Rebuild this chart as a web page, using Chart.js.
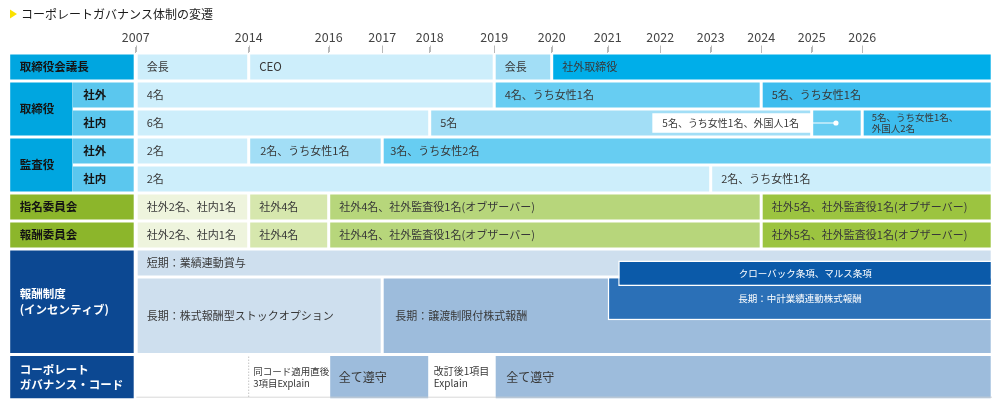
<!DOCTYPE html>
<html>
<head>
<meta charset="utf-8">
<script src="https://cdn.jsdelivr.net/npm/chart.js@4.4.1/dist/chart.umd.min.js"></script>
<style>
  html, body { margin: 0; padding: 0; background: #fff; overflow: hidden; }
  #c { display: block; }
</style>
</head>
<body>
<canvas id="c" width="1000" height="410"></canvas>
<script>
// ================= DATA =================
const TITLE = 'コーポレートガバナンス体制の変遷';
const YEAR_TICKS = [2007, 2014, 2016, 2017, 2018, 2019, 2020, 2021, 2022, 2023, 2024, 2025, 2026];
const END = 'end';

const chairBounds  = [2007, 2014, 2019, 2020, END];
const chairLabels  = ['会長', 'CEO', '会長', '社外取締役'];

const dirOutBounds = [2007, 2019, 2024, END];
const dirOutLabels = ['4名', '4名、うち女性1名', '5名、うち女性1名'];

const dirInBounds  = [2007, 2018, 2025, 2026, END];
const dirInLabels  = ['6名', '5名', '', ['5名、うち女性1名、', '外国人2名']];
const dirInNote    = '5名、うち女性1名、外国人1名';   // callout for the 2025 period

const audOutBounds = [2007, 2014, 2017, END];
const audOutLabels = ['2名', '2名、うち女性1名', '3名、うち女性2名'];

const audInBounds  = [2007, 2023, END];
const audInLabels  = ['2名', '2名、うち女性1名'];

const nomBounds    = [2007, 2014, 2016, 2024, END];
const nomLabels    = ['社外2名、社内1名', '社外4名', '社外4名、社外監査役1名(オブザーバー)', '社外5名、社外監査役1名(オブザーバー)'];

const remBounds    = [2007, 2014, 2016, 2024, END];
const remLabels    = ['社外2名、社内1名', '社外4名', '社外4名、社外監査役1名(オブザーバー)', '社外5名、社外監査役1名(オブザーバー)'];

const shortBounds  = [2007, END];
const shortLabels  = ['短期：業績連動賞与'];
const longBounds   = [2007, 2017, END];
const longLabels   = ['長期：株式報酬型ストックオプション', '長期：譲渡制限付株式報酬'];
const midBounds    = [2021, END];
const midLabels    = ['長期：中計業績連動株式報酬'];
const clawBounds   = [2021.2, END];
const clawLabels   = ['クローバック条項、マルス条項'];

const cgBounds     = [2007, 2014, 2016, 2018, 2019, END];
const cgLabels     = ['', ['同コード適用直後', '3項目Explain'], '全て遵守', ['改訂後1項目', 'Explain'], '全て遵守'];

const headFullLabels = ['取締役会議長', '指名委員会', '報酬委員会'];
const headMainLabels = ['取締役', '監査役'];
const headSubLabels  = ['社外', '社内', '社外', '社内'];
const headIncLabel   = ['報酬制度', '(インセンティブ)'];
const headCgLabel    = ['コーポレート', 'ガバナンス・コード'];

// ================= LAYOUT / STYLE =================
// horizontal spacing of the year columns in this illustration (axis units = px)
const AXIS_POS = [0, 113, 193, 246.5, 294, 358.5, 416, 472, 524.5, 575, 625.5, 676, 726.5];
const AXIS_END_POS = 856.5;
const HEAD_L = -127, HEAD_SPLIT = -63;
const ROW_KEYS = ['chair', 'dirOut', 'dirIn', 'audOut', 'audIn', 'nom', 'rem', 'inc', 'cg'];
const ROW_H    = [28, 28, 28, 28, 28, 28, 28, 105.5, 45.3];

const FAM = '"Noto Sans CJK JP", "Noto Sans", sans-serif';
const F_DATA = '11px ' + FAM;
const F_HEAD = 'bold 11.5px ' + FAM;
const TXT = '#383838', TXT_HEAD = '#141414';

const C = {
  head: '#00a6e0', sub: '#5bc7ee', green: '#8cb62b', navy: '#0c4892',
  b1: '#cdeefb', b2: '#a2def6', b3: '#67cdf2', b4: '#3ebdee', bright: '#00aee9',
  g1: '#eef4dd', g2: '#d6e7ad', g3: '#b7d67b', g4: '#9cc440',
  s1: '#cedfee', s2: '#9dbcdc', claw: '#0b5aa9', mid: '#2b70b7'
};

// ================= HELPERS =================
function pos(v) {
  if (v === END) return AXIS_END_POS;
  const n = YEAR_TICKS.length - 1;
  for (let i = 0; i < n; i++) {
    if (v <= YEAR_TICKS[i + 1]) {
      const t = (v - YEAR_TICKS[i]) / (YEAR_TICKS[i + 1] - YEAR_TICKS[i]);
      return AXIS_POS[i] + t * (AXIS_POS[i + 1] - AXIS_POS[i]);
    }
  }
  return AXIS_POS[n] + (v - YEAR_TICKS[n]) * (AXIS_POS[n] - AXIS_POS[n - 1]);
}
const ROW_TOP = {};
let acc = 0;
ROW_KEYS.forEach((k, i) => { ROW_TOP[k] = acc; acc += ROW_H[i]; });
const Y_TOTAL = acc;
const rowH = k => ROW_H[ROW_KEYS.indexOf(k)];
const mid = (k, off = 0, h = rowH(k)) => ROW_TOP[k] + off + h / 2;
function band(bounds, y) {
  return bounds.slice(0, -1).map((b, i) => ({ x: [pos(b), pos(bounds[i + 1])], y }));
}
function bar(o) {
  return Object.assign({
    type: 'bar', indexAxis: 'y', grouped: false,
    borderColor: '#fff', borderWidth: 1.5, borderSkipped: false, inflateAmount: 0,
    lblFont: F_DATA, lblColor: TXT, lblAlign: 'left', lblPad: 10.5, lblLine: 14, order: 10
  }, o);
}

const datasets = [
  // ---- headers ----
  bar({ data: [{ x: [HEAD_L, pos(2007)], y: mid('chair') }, { x: [HEAD_L, pos(2007)], y: mid('nom') }, { x: [HEAD_L, pos(2007)], y: mid('rem') }],
        barThickness: 28, backgroundColor: [C.head, C.green, C.green], texts: headFullLabels,
        lblFont: F_HEAD, lblColor: TXT_HEAD, lblPad: 11 }),
  bar({ data: [{ x: [HEAD_L, HEAD_SPLIT], y: ROW_TOP.dirOut + 28 }, { x: [HEAD_L, HEAD_SPLIT], y: ROW_TOP.audOut + 28 }],
        barThickness: 56, backgroundColor: C.head, texts: headMainLabels,
        borderWidth: { top: 1.5, bottom: 1.5, left: 1.5, right: 0 },
        lblFont: F_HEAD, lblColor: TXT_HEAD, lblPad: 11 }),
  bar({ data: ['dirOut', 'dirIn', 'audOut', 'audIn'].map(k => ({ x: [HEAD_SPLIT, pos(2007)], y: mid(k) })),
        barThickness: 28, backgroundColor: C.sub, texts: headSubLabels,
        borderWidth: { top: 1.5, bottom: 1.5, left: 0, right: 1.5 },
        lblFont: F_HEAD, lblColor: TXT_HEAD, lblPad: 10.5 }),
  bar({ data: [{ x: [HEAD_L, pos(2007)], y: mid('inc') }], barThickness: rowH('inc'), backgroundColor: C.navy,
        texts: [headIncLabel], lblFont: F_HEAD, lblColor: '#fff', lblPad: 11, lblLine: 16 }),
  bar({ data: [{ x: [HEAD_L, pos(2007)], y: mid('cg') }], barThickness: rowH('cg'), backgroundColor: C.navy,
        texts: [headCgLabel], lblFont: F_HEAD, lblColor: '#fff', lblPad: 11, lblLine: 15 }),

  // ---- board rows ----
  bar({ data: band(chairBounds, mid('chair')), barThickness: 28, texts: chairLabels,
        backgroundColor: [C.b1, C.b1, C.b2, C.bright], lblFont: [F_DATA, '11.5px ' + FAM, F_DATA, F_DATA] }),
  bar({ data: band(dirOutBounds, mid('dirOut')), barThickness: 28, texts: dirOutLabels,
        backgroundColor: [C.b1, C.b3, C.b4] }),
  bar({ data: band(dirInBounds, mid('dirIn')), barThickness: 28, texts: dirInLabels,
        backgroundColor: [C.b1, C.b2, C.b3, C.b4], lblPad: [10.5, 10.5, 10, 9.5],
        lblFont: [F_DATA, F_DATA, F_DATA, '9.5px ' + FAM], lblLine: 11 }),
  bar({ data: band(audOutBounds, mid('audOut')), barThickness: 28, texts: audOutLabels,
        backgroundColor: [C.b1, C.b2, C.b3], lblPad: [10.5, 11.5, 8] }),
  bar({ data: band(audInBounds, mid('audIn')), barThickness: 28, texts: audInLabels,
        backgroundColor: [C.b1, C.b1] }),
  bar({ data: band(nomBounds, mid('nom')), barThickness: 28, texts: nomLabels,
        backgroundColor: [C.g1, C.g2, C.g3, C.g4] }),
  bar({ data: band(remBounds, mid('rem')), barThickness: 28, texts: remLabels,
        backgroundColor: [C.g1, C.g2, C.g3, C.g4] }),

  // ---- incentive block ----
  bar({ data: band(shortBounds, mid('inc', 0, 28)), barThickness: 28, texts: shortLabels,
        backgroundColor: C.s1, order: 10 }),
  bar({ data: band(longBounds, mid('inc', 28, 77.5)), barThickness: 77.5, texts: longLabels,
        backgroundColor: [C.s1, C.s2], lblPad: [10.5, 13], order: 9 }),
  bar({ data: band(midBounds, mid('inc', 28, 43.2)), barThickness: 43.2, texts: midLabels,
        backgroundColor: C.mid, lblAlign: 'center', lblColor: '#fff', lblFont: '9.5px ' + FAM, order: 8 }),
  bar({ data: band(clawBounds, mid('inc', 11.4, 25.5)), barThickness: 25.5, texts: clawLabels,
        backgroundColor: C.claw, lblAlign: 'center', lblColor: '#fff', lblFont: '9.5px ' + FAM, order: 7 }),

  // ---- corporate governance code ----
  bar({ data: band(cgBounds, mid('cg')), barThickness: rowH('cg'), texts: cgLabels,
        backgroundColor: ['#fff', '#fff', C.s2, '#fff', C.s2],
        lblFont: [F_DATA, '9.5px ' + FAM, '12px ' + FAM, '10px ' + FAM, '12px ' + FAM],
        lblPad: [10, 4.5, 10, 4, 12], lblLine: 12.5 }),
  bar({ data: [{ x: [pos(2007), AXIS_END_POS], y: ROW_TOP.cg + 43.3 / 2 }], barThickness: 43.3,
        backgroundColor: 'rgba(0,0,0,0)', borderColor: '#d0d0d0',
        borderWidth: { top: 0, left: 0, right: 0, bottom: 1 }, order: 6 }),
  { type: 'line', indexAxis: 'x', order: 5,
    data: [{ x: pos(2014), y: ROW_TOP.cg + 2 }, { x: pos(2014), y: ROW_TOP.cg + rowH('cg') - 2.5 }],
    borderColor: '#c4c4c4', borderWidth: 1, borderDash: [1.5, 1.5], pointRadius: 0 },

  // ---- callout for 2025 board composition ----
  bar({ data: [{ x: [pos(2021.85), pos(2025)], y: mid('dirIn') }], barThickness: 19.3,
        backgroundColor: '#fff', borderWidth: 0, texts: [dirInNote], lblFont: '10px ' + FAM, lblPad: 10, order: 4 }),
  { type: 'line', indexAxis: 'x', order: 3,
    data: [{ x: pos(2025), y: mid('dirIn') }, { x: pos(2025.48), y: mid('dirIn') }],
    borderColor: '#fff', borderWidth: 1, pointRadius: [0, 2.6], pointBackgroundColor: '#fff', pointBorderWidth: 0 }
];

// ================= PLUGINS =================
const barText = {
  id: 'barText',
  afterDatasetsDraw(chart) {
    const ctx = chart.ctx;
    chart.data.datasets.forEach((ds, i) => {
      if (!ds.texts) return;
      const meta = chart.getDatasetMeta(i);
      meta.data.forEach((el, j) => {
        const t = ds.texts[j];
        if (!t || (Array.isArray(t) && !t.length)) return;
        const pick = (v, d) => Array.isArray(v) ? (v[j] !== undefined ? v[j] : d) : (v !== undefined ? v : d);
        const p = el.getProps(['x', 'y', 'base'], true);
        const left = Math.min(p.x, p.base), right = Math.max(p.x, p.base);
        const lines = Array.isArray(t) ? t : [t];
        const lh = pick(ds.lblLine, 14);
        const align = ds.lblAlign || 'left';
        ctx.save();
        ctx.font = pick(ds.lblFont, F_DATA);
        ctx.fillStyle = pick(ds.lblColor, TXT);
        ctx.textBaseline = 'middle';
        ctx.textAlign = align;
        const tx = align === 'center' ? (left + right) / 2 : left + pick(ds.lblPad, 10.5);
        lines.forEach((ln, k) => ctx.fillText(ln, tx, p.y + (k - (lines.length - 1) / 2) * lh));
        ctx.restore();
      });
    });
  }
};

// small tick marks under the year labels, placed by the x scale
const yearTickMarks = {
  id: 'yearTickMarks',
  afterDraw(chart) {
    const sx = chart.scales.x, ctx = chart.ctx, top = chart.chartArea.top;
    ctx.save();
    ctx.strokeStyle = '#b8b8b8';
    ctx.lineWidth = 1;
    sx.ticks.forEach(t => {
      const px = Math.round(sx.getPixelForValue(t.value)) + 0.5;
      ctx.beginPath();
      ctx.moveTo(px, top - 7.5);
      ctx.lineTo(px, top - 1);
      ctx.stroke();
    });
    ctx.restore();
  }
};

const titleMark = {
  id: 'titleMark',
  afterDraw(chart) {
    const ctx = chart.ctx;
    ctx.save();
    ctx.fillStyle = '#fbe100';
    ctx.beginPath();
    ctx.moveTo(10, 9.5); ctx.lineTo(17, 14); ctx.lineTo(10, 18.5); ctx.closePath();
    ctx.fill();
    ctx.fillStyle = '#1a1a1a';
    ctx.font = '12px ' + FAM;
    ctx.textBaseline = 'middle';
    ctx.textAlign = 'left';
    ctx.fillText(TITLE, 21, 14.5);
    ctx.restore();
  }
};

// ================= CHART =================
Chart.defaults.font.family = FAM;
new Chart(document.getElementById('c'), {
  type: 'bar',
  data: { datasets },
  plugins: [barText, yearTickMarks, titleMark],
  options: {
    responsive: false,
    animation: false,
    events: [],
    indexAxis: 'y',
    layout: { padding: { top: 33, left: 8, right: 7, bottom: 410 - 53 - Y_TOTAL } },
    plugins: { legend: { display: false }, tooltip: { enabled: false }, title: { display: false } },
    scales: {
      x: {
        type: 'linear', position: 'top', offset: false,
        min: HEAD_L - 0.7, max: AXIS_END_POS + 0.8,
        afterBuildTicks: s => { s.ticks = AXIS_POS.map(v => ({ value: v })); },
        afterFit: s => { s.height = 20; },
        ticks: {
          autoSkip: false, maxRotation: 0, padding: 2, color: '#444',
          font: { size: 12.5, family: FAM },
          callback: v => { const i = AXIS_POS.indexOf(v); return i >= 0 ? String(YEAR_TICKS[i]) : ''; }
        },
        grid: { offset: false, drawOnChartArea: false, drawTicks: true, tickLength: 6,
                color: '#b8b8b8', tickColor: '#b8b8b8', lineWidth: 1, tickWidth: 1 },
        border: { display: false }
      },
      y: { type: 'linear', display: false, offset: false, grid: { offset: false }, min: 0, max: Y_TOTAL, reverse: true }
    }
  }
});
</script>
</body>
</html>
